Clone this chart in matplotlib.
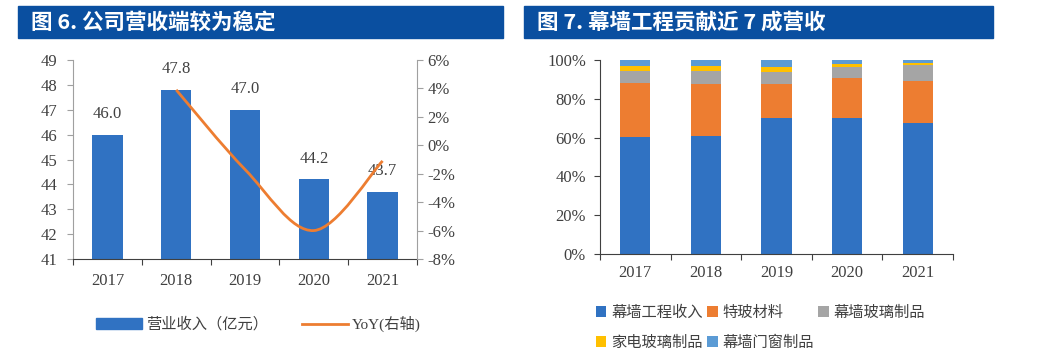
import matplotlib
matplotlib.use("Agg")
import matplotlib.pyplot as plt
from matplotlib.patches import Rectangle, PathPatch, Patch
from matplotlib.lines import Line2D
from matplotlib.path import Path
from matplotlib.ticker import FuncFormatter

plt.rcParams['font.family'] = ['Liberation Serif', 'Noto Sans CJK SC', 'DejaVu Sans']

# data
years = ["2017", "2018", "2019", "2020", "2021"]
revenue = [46.0, 47.8, 47.0, 44.2, 43.7]
yoy = [3.9, -1.7, -6.0, -1.1]          # % , from 2018 on

seg_names = ["幕墙工程收入", "特玻材料", "幕墙玻璃制品", "家电玻璃制品", "幕墙门窗制品"]
seg_colors = ["#3072C2", "#ED7D31", "#A5A5A5", "#FFC000", "#5B9BD5"]
seg_share = [
    [60.2, 60.8, 69.9, 69.9, 67.4],
    [27.8, 26.7, 17.6, 21.0, 21.8],
    [6.5, 7.0, 6.5, 5.3, 8.2],
    [2.4, 2.4, 2.2, 1.6, 1.2],
    [3.1, 3.1, 3.8, 2.2, 1.4],
]

BLUE = "#3072C2"
ORANGE = "#ED7D31"
TXT = "#404040"

fig = plt.figure(figsize=(10.41, 3.60), dpi=100)

# title bars
for x0, w, title, tx in [(18, 485, "图 6. 公司营收端较为稳定", 31),
                         (524, 469, "图 7. 幕墙工程贡献近 7 成营收", 537)]:
    fig.patches.append(Rectangle((x0 / 1041, 1 - 38 / 360), w / 1041, 32 / 360,
                                 transform=fig.transFigure, color="#0A4FA0", zorder=0))
    fig.text(tx / 1041, 1 - 22 / 360, title, color="white", fontsize=15.5, fontweight="bold",
             va="center", ha="left", family=["Noto Sans CJK SC", "DejaVu Sans"])

# ---- left chart
ax = fig.add_axes([73 / 1041, 1 - 259 / 360, 344 / 1041, 199 / 360])
xs = range(len(years))
ax.bar(xs, revenue, width=0.44, color=BLUE, zorder=2)
for i, v in enumerate(revenue):
    ax.text(i, v + 0.5, f"{v:.1f}", ha="center", va="bottom", fontsize=12, color=TXT)
ax.set_ylim(41, 49)
ax.set_xlim(-0.5, len(years) - 0.5)
ax.set_yticks(range(41, 50))
ax.set_xticks([i + 0.5 for i in range(-1, len(years))], minor=False)
ax.set_xticklabels([])
ax.set_xticks(list(xs), minor=True)
ax.set_xticklabels(years, minor=True)
ax.tick_params(axis="x", which="major", length=4, color="#404040", direction="out")
ax.tick_params(axis="x", which="minor", length=0, labelsize=12, labelcolor=TXT, pad=10)
ax.tick_params(axis="y", length=4, color="#A0A0A0", labelsize=12, labelcolor=TXT, pad=7)
for s in ["top", "right"]:
    ax.spines[s].set_visible(False)
ax.spines["left"].set_color("#A0A0A0")
ax.spines["bottom"].set_color("#404040")
ax.spines["bottom"].set_zorder(3)

ax2 = ax.twinx()
ax2.set_ylim(-8, 6)
ax2.set_yticks(range(-8, 7, 2))
ax2.yaxis.set_major_formatter(FuncFormatter(lambda v, p: f"{v:.0f}%"))
ax2.tick_params(axis="y", length=4, color="#A0A0A0", labelsize=12, labelcolor=TXT)
for s in ["top", "left", "bottom"]:
    ax2.spines[s].set_visible(False)
ax2.spines["right"].set_color("#A0A0A0")

# smoothed YoY line (Bezier through the data points)
px = list(range(1, len(years)))
pts = list(zip(px, yoy))
verts = [pts[0]]
codes = [Path.MOVETO]
for i in range(len(pts) - 1):
    p0 = pts[i - 1] if i > 0 else pts[i]
    p1, p2 = pts[i], pts[i + 1]
    p3 = pts[i + 2] if i + 2 < len(pts) else pts[i + 1]
    c1 = (p1[0] + (p2[0] - p0[0]) / 6, p1[1] + (p2[1] - p0[1]) / 6)
    c2 = (p2[0] - (p3[0] - p1[0]) / 6, p2[1] - (p3[1] - p1[1]) / 6)
    verts += [c1, c2, p2]
    codes += [Path.CURVE4] * 3
ax2.add_patch(PathPatch(Path(verts, codes), fill=False, edgecolor=ORANGE, lw=2, zorder=3))

handles = [Patch(color=BLUE), Line2D([], [], color=ORANGE, lw=2)]
fig.legend(handles, ["营业收入（亿元）", "YoY(右轴)"], loc="center left",
           bbox_to_anchor=(82 / 1041, 1 - 324 / 360), ncol=2, frameon=False,
           fontsize=11, handlelength=3.0, handleheight=0.7, columnspacing=2.2,
           handletextpad=0.3, labelcolor=TXT)

# ---- right chart
bx = fig.add_axes([600 / 1041, 1 - 254 / 360, 353 / 1041, 194 / 360])
bottom = [0.0] * len(years)
for name, col, vals in zip(seg_names, seg_colors, seg_share):
    bx.bar(xs, vals, bottom=bottom, width=0.43, color=col, label=name, zorder=2)
    bottom = [b + v for b, v in zip(bottom, vals)]
bx.set_ylim(0, 100)
bx.set_xlim(-0.5, len(years) - 0.5)
bx.set_yticks(range(0, 101, 20))
bx.yaxis.set_major_formatter(FuncFormatter(lambda v, p: f"{v:.0f}%"))
bx.set_xticks([i + 0.5 for i in range(-1, len(years))])
bx.set_xticklabels([])
bx.set_xticks(list(xs), minor=True)
bx.set_xticklabels(years, minor=True)
bx.tick_params(axis="x", which="major", length=4, color="#404040")
bx.tick_params(axis="x", which="minor", length=0, labelsize=12, labelcolor=TXT, pad=8)
bx.tick_params(axis="y", length=4, color="#404040", labelsize=12, labelcolor=TXT, pad=6)
for s in ["top", "right"]:
    bx.spines[s].set_visible(False)
bx.spines["left"].set_color("#404040")
bx.spines["bottom"].set_color("#404040")

h, l = bx.get_legend_handles_labels()
order = [0, 3, 1, 4, 2]
fig.legend([h[i] for i in order], [l[i] for i in order], loc="upper left",
           bbox_to_anchor=(582 / 1041, 1 - 292 / 360), ncol=3, frameon=False,
           fontsize=11, handlelength=0.7, handleheight=0.7, handletextpad=0.3,
           columnspacing=0.3, labelspacing=1.0, labelcolor=TXT)

fig.savefig("out.png", dpi=100)
